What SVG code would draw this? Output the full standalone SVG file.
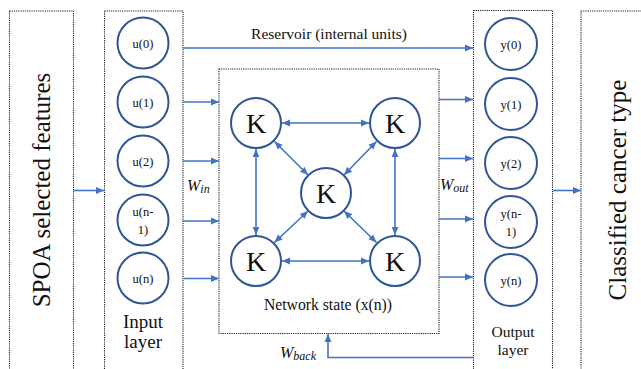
<svg xmlns="http://www.w3.org/2000/svg" width="641" height="369" viewBox="0 0 641 369">
  <style>
    .box { fill: none; stroke: #222; stroke-width: 1.1; stroke-dasharray: 1.2 1; }
    .node { fill: #fff; stroke: #2F5597; stroke-width: 2; }
    .wire { fill: none; stroke: #4472C4; stroke-width: 1.6; }
    .txt { font-family: 'Liberation Serif', 'DejaVu Serif', serif; fill: #111; }
    .w { font-family: 'Liberation Serif', 'DejaVu Serif', serif; font-style: italic; fill: #111; }
  </style>
  <defs>
    <marker id="ah" markerUnits="userSpaceOnUse" viewBox="0 0 8 8" markerWidth="8" markerHeight="8" refX="8" refY="4" orient="auto-start-reverse">
      <path d="M0,0.6 L8,4 L0,7.4 z" fill="#4472C4"/>
    </marker>
  </defs>
  <rect width="641" height="369" fill="#fff"/>

  <!-- outer panels -->
  <g id="features">
    <rect class="box" x="9.5" y="11" width="64" height="370"/>
    <text class="txt" font-size="25" text-anchor="middle" transform="translate(50,190) rotate(-90)">SPOA selected features</text>
  </g>
  <g id="input-layer">
    <rect class="box" x="104.5" y="11" width="78.5" height="370"/>
    <text class="txt" font-size="19" text-anchor="middle" x="143" y="328">Input</text>
    <text class="txt" font-size="19" text-anchor="middle" x="143" y="348">layer</text>
  </g>
  <g id="reservoir">
    <rect class="box" x="219" y="69" width="220" height="264.5"/>
    <text class="txt" font-size="15.5" text-anchor="middle" x="329" y="39">Reservoir (internal units)</text>
    <text class="txt" font-size="15.7" text-anchor="middle" x="328" y="310">Network state (x(n))</text>
  </g>
  <g id="output-layer">
    <rect class="box" x="473.5" y="10.5" width="79" height="370"/>
    <text class="txt" font-size="15.5" text-anchor="middle" x="513" y="337">Output</text>
    <text class="txt" font-size="15.5" text-anchor="middle" x="513" y="355">layer</text>
  </g>
  <g id="classes">
    <rect class="box" x="581" y="11" width="80" height="370"/>
    <text class="txt" font-size="25" text-anchor="middle" transform="translate(626,190) rotate(-90)">Classified cancer type</text>
  </g>

  <!-- input units -->
  <g id="u0"><circle class="node" cx="143" cy="43" r="25.5"/><text class="txt" font-size="12.5" text-anchor="middle" x="143" y="47.5">u(0)</text></g>
  <g id="u1"><circle class="node" cx="143" cy="102" r="25.5"/><text class="txt" font-size="12.5" text-anchor="middle" x="143" y="106.5">u(1)</text></g>
  <g id="u2"><circle class="node" cx="143" cy="161" r="25.5"/><text class="txt" font-size="12.5" text-anchor="middle" x="143" y="165.5">u(2)</text></g>
  <g id="un1"><circle class="node" cx="143" cy="220" r="25.5"/><text class="txt" font-size="12.5" text-anchor="middle" x="143" y="216">u(n-</text><text class="txt" font-size="12.5" text-anchor="middle" x="143" y="234">1)</text></g>
  <g id="un"><circle class="node" cx="143" cy="278" r="25.5"/><text class="txt" font-size="12.5" text-anchor="middle" x="143" y="282.5">u(n)</text></g>

  <!-- reservoir units -->
  <g id="k-tl"><circle class="node" cx="256" cy="123" r="25"/><text class="txt" font-size="28" text-anchor="middle" x="256" y="133">K</text></g>
  <g id="k-tr"><circle class="node" cx="395" cy="123" r="25"/><text class="txt" font-size="28" text-anchor="middle" x="395" y="133">K</text></g>
  <g id="k-c"><circle class="node" cx="326" cy="193" r="25"/><text class="txt" font-size="28" text-anchor="middle" x="326" y="203">K</text></g>
  <g id="k-bl"><circle class="node" cx="256" cy="261" r="25"/><text class="txt" font-size="28" text-anchor="middle" x="256" y="271">K</text></g>
  <g id="k-br"><circle class="node" cx="395" cy="261" r="25"/><text class="txt" font-size="28" text-anchor="middle" x="395" y="271">K</text></g>

  <!-- output units -->
  <g id="y0"><circle class="node" cx="511" cy="44" r="26"/><text class="txt" font-size="12.5" text-anchor="middle" x="511" y="48.5">y(0)</text></g>
  <g id="y1"><circle class="node" cx="511" cy="104" r="26"/><text class="txt" font-size="12.5" text-anchor="middle" x="511" y="108.5">y(1)</text></g>
  <g id="y2"><circle class="node" cx="511" cy="163" r="26"/><text class="txt" font-size="12.5" text-anchor="middle" x="511" y="167.5">y(2)</text></g>
  <g id="yn1"><circle class="node" cx="511" cy="222" r="26"/><text class="txt" font-size="12.5" text-anchor="middle" x="511" y="218">y(n-</text><text class="txt" font-size="12.5" text-anchor="middle" x="511" y="236">1)</text></g>
  <g id="yn"><circle class="node" cx="511" cy="280" r="26"/><text class="txt" font-size="12.5" text-anchor="middle" x="511" y="284.5">y(n)</text></g>

  <!-- weight labels -->
  <g id="labels">
    <text class="w" font-size="16" x="187" y="191">W<tspan font-size="12" dy="2">in</tspan></text>
    <text class="w" font-size="16" x="440" y="190">W<tspan font-size="12" dy="2">out</tspan></text>
    <text class="w" font-size="16" x="280" y="358">W<tspan font-size="12" dy="2">back</tspan></text>
  </g>

  <!-- connectors -->
  <g id="connectors">
    <line class="wire" x1="74" y1="190.5" x2="104" y2="190.5" marker-end="url(#ah)"/>
    <line class="wire" x1="183" y1="48" x2="473" y2="48" marker-end="url(#ah)"/>
    <line class="wire" x1="183" y1="102" x2="219" y2="102" marker-end="url(#ah)"/>
    <line class="wire" x1="183" y1="161" x2="219" y2="161" marker-end="url(#ah)"/>
    <line class="wire" x1="183" y1="221" x2="219" y2="221" marker-end="url(#ah)"/>
    <line class="wire" x1="183" y1="278.5" x2="219" y2="278.5" marker-end="url(#ah)"/>
    <line class="wire" x1="439" y1="99.5" x2="473" y2="99.5" marker-end="url(#ah)"/>
    <line class="wire" x1="439" y1="158.5" x2="473" y2="158.5" marker-end="url(#ah)"/>
    <line class="wire" x1="439" y1="219" x2="473" y2="219" marker-end="url(#ah)"/>
    <line class="wire" x1="439" y1="277" x2="473" y2="277" marker-end="url(#ah)"/>
    <line class="wire" x1="553" y1="190.5" x2="581" y2="190.5" marker-end="url(#ah)"/>
    <polyline class="wire" points="473,357.5 328,357.5 328,334" marker-end="url(#ah)"/>
    <!-- recurrent links inside the reservoir -->
    <line class="wire" x1="282" y1="123" x2="369" y2="123" marker-start="url(#ah)" marker-end="url(#ah)"/>
    <line class="wire" x1="282" y1="261" x2="369" y2="261" marker-start="url(#ah)" marker-end="url(#ah)"/>
    <line class="wire" x1="256" y1="149" x2="256" y2="235" marker-start="url(#ah)" marker-end="url(#ah)"/>
    <line class="wire" x1="395" y1="149" x2="395" y2="235" marker-start="url(#ah)" marker-end="url(#ah)"/>
    <line class="wire" x1="274.5" y1="141.5" x2="308" y2="175" marker-start="url(#ah)" marker-end="url(#ah)"/>
    <line class="wire" x1="376.5" y1="141.5" x2="344" y2="175" marker-start="url(#ah)" marker-end="url(#ah)"/>
    <line class="wire" x1="274.5" y1="242.5" x2="308" y2="211" marker-start="url(#ah)" marker-end="url(#ah)"/>
    <line class="wire" x1="376.5" y1="242.5" x2="344" y2="211" marker-start="url(#ah)" marker-end="url(#ah)"/>
  </g>
</svg>
